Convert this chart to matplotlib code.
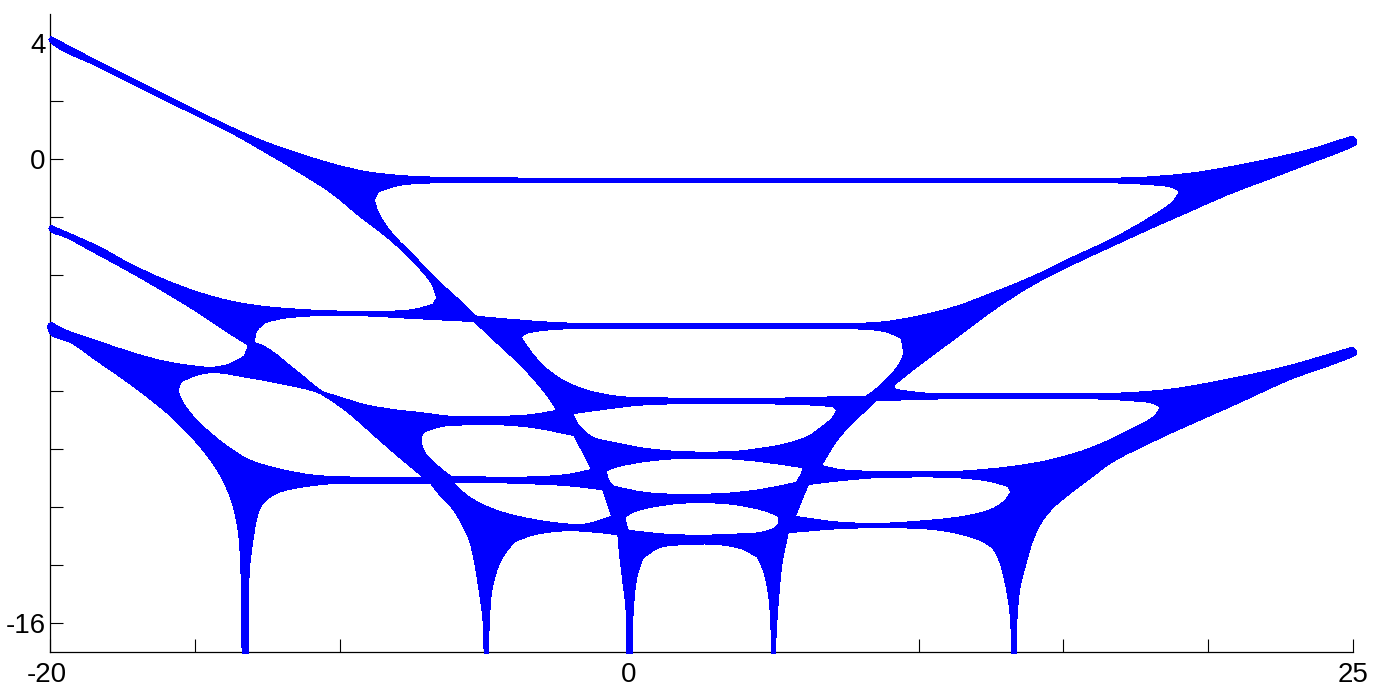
import matplotlib
matplotlib.use("Agg")
import matplotlib.pyplot as plt
import numpy as np
from matplotlib.path import Path
from matplotlib.patches import PathPatch
from matplotlib.transforms import ScaledTranslation

plt.rcParams['font.family'] = ['Liberation Sans', 'DejaVu Sans']

x_ticks = [-20, -15, -10, -5, 0, 5, 10, 15, 20, 25]
x_tick_labels = ['-20', '', '', '', '0', '', '', '', '', '25']
y_ticks = [4, 2, 0, -2, -4, -6, -8, -10, -12, -14, -16]
y_tick_labels = ['4', '', '0', '', '', '', '', '', '', '', '-16']

outer = [(-20.03,4.12),(-19.96,4.21),(-18.34,3.36),(-16.06,2.22),(-13.74,1.09),(-12.60,0.60),(-11.43,0.19),(-10.29,-0.16),
 (-9.15,-0.43),(-7.98,-0.57),(-6.49,-0.64),(-5.11,-0.66),(17.27,-0.66),(19.34,-0.50),(20.68,-0.29),(22.03,-0.02),
 (23.38,0.29),(24.97,0.78),(25.10,0.67),(25.10,0.50),(24.97,0.43),(23.38,-0.19),(22.03,-0.71),(20.68,-1.22),
 (19.34,-1.81),(17.99,-2.40),(16.64,-3.02),(15.30,-3.64),(13.95,-4.33),(12.60,-5.19),(11.29,-6.16),(9.94,-7.16),
 (9.12,-7.81),(9.19,-7.95),(9.94,-8.05),(10.46,-8.09),(16.64,-8.09),(18.65,-7.95),(20.68,-7.60),(22.69,-7.16),
 (24.97,-6.50),(25.10,-6.60),(25.10,-6.74),(24.97,-6.81),(22.82,-7.60),(20.68,-8.57),(19.34,-9.16),(17.99,-9.78),
 (16.64,-10.47),(15.99,-10.95),(15.30,-11.47),(14.64,-12.02),(14.23,-12.53),(13.95,-13.12),(13.71,-13.91),(13.50,-14.74),
 (13.40,-15.66),(13.36,-17.05),(13.23,-17.05),(13.16,-15.66),(13.02,-14.74),(12.81,-13.91),(12.60,-13.47),(12.22,-13.19),
 (11.53,-12.95),(10.60,-12.78),(9.25,-12.71),(7.25,-12.74),(5.49,-12.88),(5.28,-13.91),(5.16,-15.09),(5.08,-16.22),
 (5.04,-17.05),(4.94,-17.05),(4.83,-15.09),(4.63,-14.16),(4.42,-13.71),(3.87,-13.43),(3.07,-13.29),(1.90,-13.29),
 (1.04,-13.40),(0.48,-13.74),(0.28,-14.33),(0.14,-15.53),(0.10,-17.05),(-0.07,-17.05),(-0.10,-15.53),(-0.24,-14.33),
 (-0.35,-13.36),(-0.38,-12.95),(-1.42,-12.84),(-2.11,-12.81),(-3.28,-12.95),(-3.97,-13.19),(-4.42,-13.81),(-4.74,-14.84),
 (-4.83,-15.88),(-4.87,-17.05),(-5.00,-17.05),(-5.04,-15.88),(-5.18,-14.84),(-5.35,-13.81),(-5.52,-13.12),(-5.80,-12.53),
 (-6.15,-11.98),(-6.49,-11.64),(-6.84,-11.19),(-10.29,-11.19),(-11.43,-11.33),(-12.12,-11.50),(-12.60,-11.81),(-12.81,-12.19),
 (-12.98,-13.02),(-13.12,-14.16),(-13.16,-17.05),(-13.36,-17.05),(-13.40,-14.16),(-13.50,-12.78),(-13.74,-11.74),(-14.09,-10.95),
 (-14.54,-10.26),(-15.12,-9.57),(-15.81,-8.88),(-16.61,-8.22),(-17.44,-7.60),(-18.34,-6.98),(-19.27,-6.33),(-19.96,-6.05),
 (-20.06,-5.88),(-20.06,-5.71),(-19.96,-5.64),(-19.51,-5.88),(-18.34,-6.29),(-17.20,-6.67),(-16.06,-6.98),(-14.88,-7.16),
 (-14.43,-7.19),(-13.85,-7.09),(-13.29,-6.81),(-13.16,-6.47),(-13.16,-6.40),(-13.74,-6.05),(-14.88,-5.29),(-16.06,-4.57),
 (-17.20,-3.91),(-18.34,-3.29),(-19.51,-2.67),(-19.96,-2.50),(-20.03,-2.40),(-19.96,-2.30),(-18.34,-3.02),(-17.20,-3.64),
 (-16.06,-4.16),(-14.88,-4.60),(-13.74,-4.91),(-12.60,-5.09),(-10.88,-5.22),(-9.15,-5.26),(-7.42,-5.19),(-6.77,-5.02),
 (-6.63,-4.78),(-6.84,-4.26),(-7.42,-3.57),(-7.98,-3.02),(-8.56,-2.53),(-9.15,-2.09),(-10.29,-1.16),(-11.43,-0.43),
 (-12.60,0.26),(-13.74,0.91),(-16.06,2.05),(-18.34,3.19),(-19.96,4.02)]

hole_top = [(-8.81,-1.40),(-8.67,-1.12),(-7.98,-0.91),(-6.49,-0.81),(16.51,-0.81),(17.99,-0.88),(18.78,-0.98),(19.03,-1.12),
 (18.78,-1.47),(17.99,-2.02),(16.64,-2.78),(15.30,-3.40),(13.95,-4.05),(12.60,-4.60),(11.29,-5.09),(9.94,-5.43),(8.60,-5.64),
 (6.84,-5.67),(-1.90,-5.67),(-3.28,-5.60),(-5.28,-5.43),(-5.90,-4.84),(-6.39,-4.40),(-7.42,-3.36),(-8.22,-2.53),(-8.67,-1.84)]
hole_left2 = [(-12.95,-6.33),(-12.88,-5.95),(-12.60,-5.64),(-12.02,-5.50),(-10.88,-5.40),(-9.15,-5.40),(-7.87,-5.47),(-5.35,-5.60),
 (-4.42,-6.47),(-3.83,-7.02),(-3.28,-7.60),(-2.80,-8.19),(-2.49,-8.67),(-3.28,-8.81),(-4.42,-8.88),(-6.15,-8.88),(-7.29,-8.74),
 (-7.98,-8.67),(-9.15,-8.47),(-10.29,-8.12),(-10.53,-8.05),(-11.43,-7.36),(-12.60,-6.47)]
hole_mid2 = [(-3.73,-6.16),(-3.63,-6.05),(-3.28,-5.95),(-1.90,-5.84),(6.84,-5.84),(8.84,-5.95),(9.39,-6.16),(9.46,-6.47),(9.46,-6.81),
 (9.12,-7.36),(8.60,-7.88),(8.18,-8.19),(6.56,-8.22),(4.80,-8.26),(0.76,-8.24),(-0.38,-8.19),(-1.55,-7.95),(-2.35,-7.60),
 (-2.94,-7.16),(-3.38,-6.67)]
hole_left3 = [(-15.57,-7.95),(-15.47,-7.67),(-14.88,-7.43),(-14.33,-7.36),(-13.16,-7.53),(-12.02,-7.74),(-10.74,-8.05),(-10.53,-8.16),
 (-9.70,-8.74),(-8.56,-9.74),(-7.42,-10.71),(-7.08,-10.98),(-9.25,-10.98),(-10.88,-10.91),(-12.02,-10.71),(-13.16,-10.36),
 (-13.98,-9.84),(-14.68,-9.26),(-15.12,-8.81),(-15.47,-8.29)]
hole_inner_left = [(-7.18,-9.57),(-7.08,-9.40),(-6.49,-9.22),(-5.56,-9.16),(-4.42,-9.16),(-3.28,-9.26),(-1.90,-9.53),(-1.28,-10.71),
 (-2.11,-10.88),(-3.83,-10.98),(-6.15,-10.95),(-6.60,-10.60),(-7.08,-10.09),(-7.18,-9.78)]
hole_lower_left = [(-6.08,-11.16),(-4.42,-11.16),(-2.11,-11.26),(-0.90,-11.40),(-0.59,-12.33),(-1.55,-12.60),(-2.69,-12.53),
 (-3.83,-12.33),(-4.66,-12.09),(-5.56,-11.64)]
hole_mid3 = [(-1.97,-8.78),(-0.97,-8.64),(0.52,-8.47),(2.83,-8.43),(4.11,-8.43),(6.18,-8.47),(7.04,-8.53),(7.18,-8.67),(7.04,-8.91),
 (6.63,-9.26),(6.18,-9.57),(5.35,-9.84),(4.56,-9.98),(3.63,-10.09),(1.69,-10.09),(0.52,-9.98),(-0.38,-9.81),(-1.31,-9.57),(-1.76,-9.16)]
hole_mid4 = [(-0.79,-10.74),(-0.38,-10.60),(0.52,-10.43),(1.55,-10.33),(3.42,-10.33),(4.56,-10.43),(6.01,-10.64),(5.94,-10.88),
 (5.77,-11.16),(4.56,-11.40),(3.42,-11.53),(1.69,-11.57),(0.52,-11.50),(-0.55,-11.29),(-0.73,-11.05)]
hole_mid5 = [(-0.14,-12.33),(0.17,-12.16),(1.35,-11.91),(2.38,-11.84),(3.63,-11.91),(4.80,-12.16),(5.18,-12.33),(5.15,-12.60),
 (5.01,-12.74),(3.42,-12.95),(1.35,-12.95),(-0.03,-12.81),(-0.10,-12.60)]
hole_right3 = [(8.53,-8.33),(11.02,-8.26),(15.85,-8.26),(17.33,-8.33),(18.13,-8.43),(18.37,-8.57),(18.13,-8.88),(17.33,-9.33),
 (15.99,-9.95),(14.64,-10.36),(13.29,-10.60),(11.29,-10.78),(8.60,-10.78),(7.25,-10.71),(6.63,-10.57),(7.25,-9.60),(7.91,-8.91)]
hole_right4 = [(6.18,-11.22),(7.25,-11.09),(8.60,-10.98),(11.29,-10.98),(12.50,-11.12),(13.09,-11.29),(13.19,-11.50),(12.95,-11.81),
 (12.50,-12.09),(11.53,-12.33),(9.94,-12.50),(8.60,-12.57),(7.25,-12.53),(5.73,-12.33)]

holes = [hole_top, hole_left2, hole_mid2, hole_left3, hole_inner_left, hole_lower_left,
         hole_mid3, hole_mid4, hole_mid5, hole_right3, hole_right4]


def smooth_ring(ring):
    """Closed Bezier path through the read points, keeping sharp corners where the outline has them."""
    P = np.array(ring, dtype=float)
    n = len(P)
    nxt = np.roll(P, -1, axis=0) - P
    seg = np.hypot(nxt[:, 0], nxt[:, 1])
    unit = nxt / seg[:, None]
    prev_unit = np.roll(unit, 1, axis=0)
    prev_seg = np.roll(seg, 1)
    cosang = np.clip((unit * prev_unit).sum(axis=1), -1, 1)
    turn = np.degrees(np.arccos(cosang))
    corner = (turn > 40) | ((turn > 30) & (seg > 0.4) & (prev_seg > 0.4))
    tang = unit + prev_unit
    tang = tang / np.maximum(np.hypot(tang[:, 0], tang[:, 1]), 1e-9)[:, None]
    verts = [P[0]]
    codes = [Path.MOVETO]
    for i in range(n):
        j = (i + 1) % n
        h = min(seg[i], 2.0) / 3
        c1 = P[i] + (unit[i] if corner[i] else tang[i]) * h
        c2 = P[j] - (unit[i] if corner[j] else tang[j]) * h
        verts += [c1, c2, P[j]]
        codes += [Path.CURVE4] * 3
    verts.append(P[0])
    codes.append(Path.CLOSEPOLY)
    return Path(np.array(verts), codes)


W, H = 1379, 697
fig = plt.figure(figsize=(W / 100, H / 100), dpi=100, facecolor='white')
ax = fig.add_axes([50 / W, (H - 652) / H, (1353 - 50) / W, (652 - 14) / H])
ax.set_xlim(-20, 25)
ax.set_ylim(-17, 5)

paths = [smooth_ring(outer)] + [smooth_ring(ring[::-1]) for ring in holes]
patch = PathPatch(Path.make_compound_path(*paths), facecolor='#0000ff', edgecolor='#0000ff',
                  linewidth=0.3, clip_on=False, zorder=5, antialiased=False)
ax.add_patch(patch)

for side in ('top', 'right'):
    ax.spines[side].set_visible(False)
for side in ('left', 'bottom'):
    ax.spines[side].set_linewidth(0.9)
ax.set_xticks(x_ticks)
ax.set_xticklabels(x_tick_labels)
ax.set_yticks(y_ticks)
ax.set_yticklabels(y_tick_labels)
ax.tick_params(axis='both', direction='in', length=9.5, width=0.8, labelsize=20, colors='black')
ax.tick_params(axis='x', pad=7)
ax.tick_params(axis='y', pad=3)
first = ax.get_xticklabels()[0]
first.set_transform(first.get_transform() + ScaledTranslation(-3 / 100, 0, fig.dpi_scale_trans))

fig.savefig('out.png', dpi=100)
